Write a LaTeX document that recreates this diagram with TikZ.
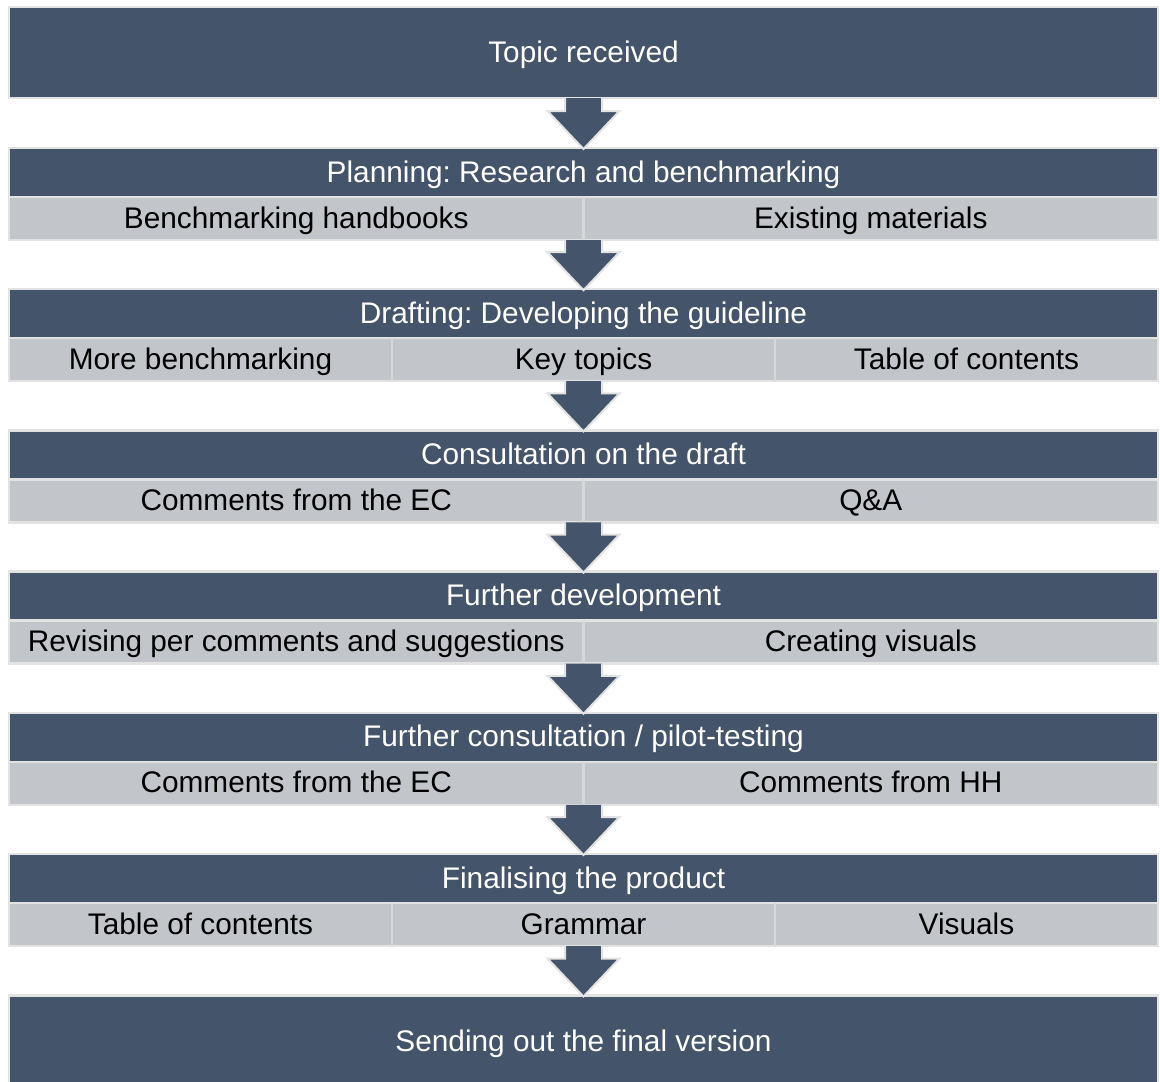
\documentclass[tikz,border=0pt]{standalone}
\usepackage{fontspec}
\setmainfont{Liberation Sans}
\usetikzlibrary{calc}
\frenchspacing
\definecolor{dark}{HTML}{44546A}
\definecolor{rowgray}{HTML}{C2C5CA}
\definecolor{edgegray}{HTML}{E3E3E3}
\definecolor{divgray}{HTML}{D6D8DB}
\tikzset{
  x=1pt,y=-1pt,
  txt/.style={font=\fontsize{29.8}{35}\selectfont, text height=24pt, text depth=5pt},
  stage/.style={txt, fill=dark, draw=edgegray, line width=2.5pt, text=white,
    minimum width=1149pt, inner sep=0pt, outer sep=0pt, anchor=north},
  header/.style={stage, minimum height=49pt},
  rowbox/.style={fill=rowgray, draw=edgegray, line width=2.5pt,
    minimum width=1149pt, minimum height=43pt, inner sep=0pt, outer sep=0pt, anchor=north},
  cell/.style={txt, text=black, minimum height=43pt, inner sep=0pt, outer sep=0pt, anchor=north west},
  twocell/.style={cell, minimum width=574.5pt},
  threecell/.style={cell, minimum width=383pt},
  divline/.style={draw=divgray, line width=2.5pt},
  flowarrowstyle/.style={fill=dark, draw=edgegray, line width=2pt, line join=miter}
}
\newcommand\flowarrow[2]{%
  \filldraw[flowarrowstyle] let \p1=(#1.south), \p2=(#2.north) in
    (\x1-18.5pt,\y1) -- (\x1-18.5pt,\y2+37pt) -- (\x1-36pt,\y2+37pt) --
    (\x1,\y2-1pt) -- (\x1+36pt,\y2+37pt) -- (\x1+18.5pt,\y2+37pt) -- (\x1+18.5pt,\y1);%
}
\begin{document}
\begin{tikzpicture}
\useasboundingbox[fill=white] (0,0) rectangle (1160,1082);

% Topic received
\node[stage, minimum height=91pt] (topic) at (583.5,7) {Topic received};

% Stage 1
\node[header] (h1) at (583.5,148) {Planning: Research and benchmarking};
\node[rowbox] (r1) at (h1.south) {};
\node[twocell] (r1a) at (r1.north west) {Benchmarking handbooks};
\node[twocell] (r1b) at (r1a.north east) {Existing materials};
\draw[divline] (r1a.north east) -- (r1a.south east);

% Stage 2
\node[header] (h2) at (583.5,289.2) {Drafting: Developing the guideline};
\node[rowbox] (r2) at (h2.south) {};
\node[threecell] (r2a) at (r2.north west) {More benchmarking};
\node[threecell] (r2b) at (r2a.north east) {Key topics};
\node[threecell] (r2c) at (r2b.north east) {Table of contents};
\draw[divline] (r2a.north east) -- (r2a.south east);
\draw[divline] (r2b.north east) -- (r2b.south east);

% Stage 3
\node[header] (h3) at (583.5,430.4) {Consultation on the draft};
\node[rowbox] (r3) at (h3.south) {};
\node[twocell] (r3a) at (r3.north west) {Comments from the EC};
\node[twocell] (r3b) at (r3a.north east) {Q\&A};
\draw[divline] (r3a.north east) -- (r3a.south east);

% Stage 4
\node[header] (h4) at (583.5,571.6) {Further development};
\node[rowbox] (r4) at (h4.south) {};
\node[twocell] (r4a) at (r4.north west) {Revising per comments and suggestions};
\node[twocell] (r4b) at (r4a.north east) {Creating visuals};
\draw[divline] (r4a.north east) -- (r4a.south east);

% Stage 5
\node[header] (h5) at (583.5,712.8) {Further consultation / pilot-testing};
\node[rowbox] (r5) at (h5.south) {};
\node[twocell] (r5a) at (r5.north west) {Comments from the EC};
\node[twocell] (r5b) at (r5a.north east) {Comments from HH};
\draw[divline] (r5a.north east) -- (r5a.south east);

% Stage 6
\node[header] (h6) at (583.5,854) {Finalising the product};
\node[rowbox] (r6) at (h6.south) {};
\node[threecell] (r6a) at (r6.north west) {Table of contents};
\node[threecell] (r6b) at (r6a.north east) {Grammar};
\node[threecell] (r6c) at (r6b.north east) {Visuals};
\draw[divline] (r6a.north east) -- (r6a.south east);
\draw[divline] (r6b.north east) -- (r6b.south east);

% Final
\node[stage, minimum height=92pt] (final) at (583.5,995.5) {Sending out the final version};

% Arrows
\flowarrow{topic}{h1}
\flowarrow{r1}{h2}
\flowarrow{r2}{h3}
\flowarrow{r3}{h4}
\flowarrow{r4}{h5}
\flowarrow{r5}{h6}
\flowarrow{r6}{final}
\end{tikzpicture}
\end{document}
